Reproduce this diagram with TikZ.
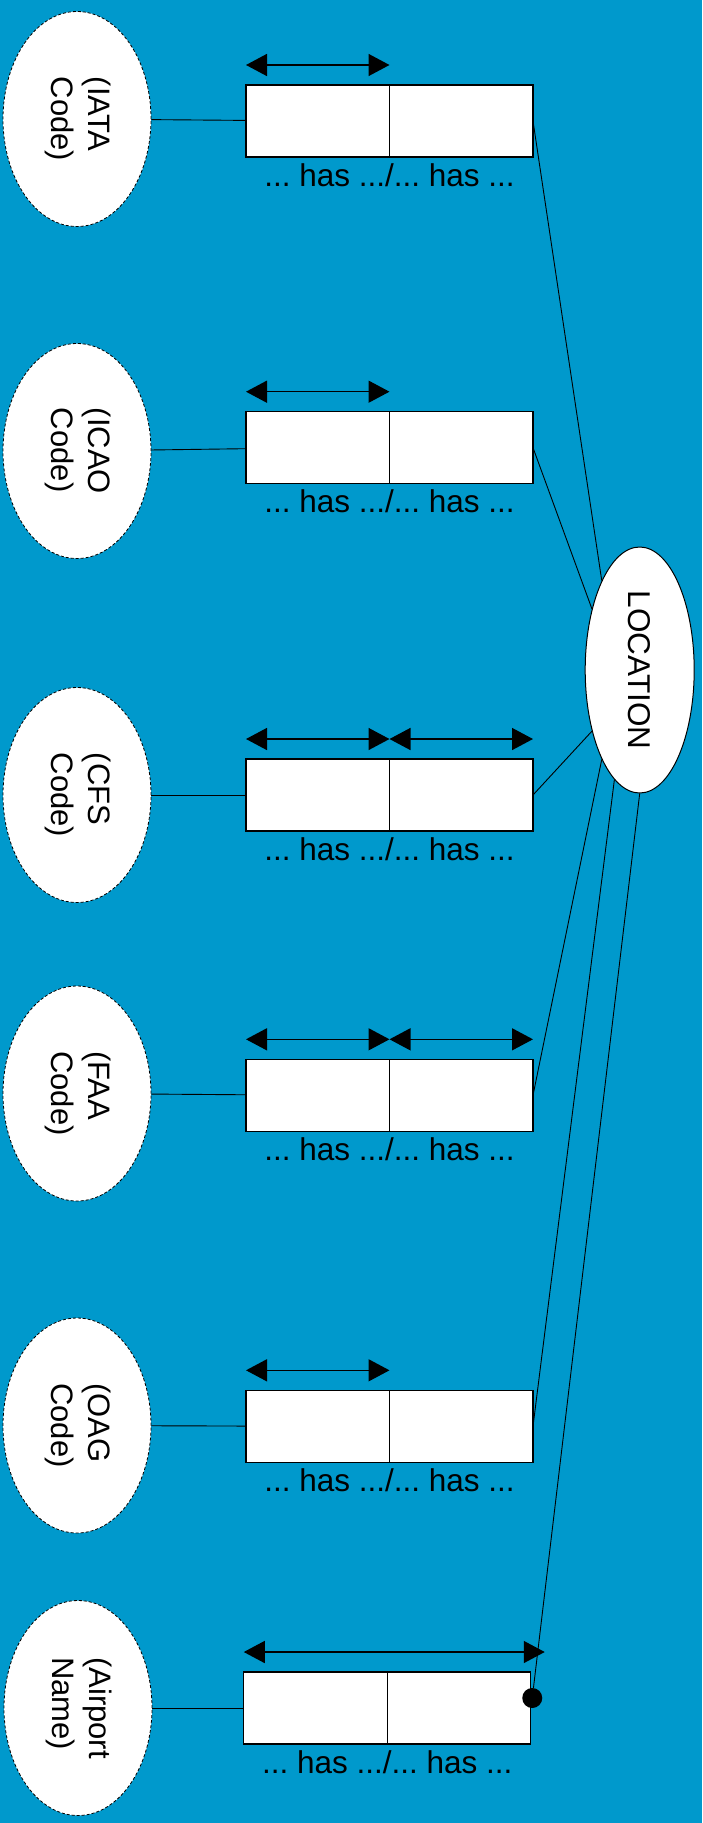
\documentclass[tikz,border=0pt]{standalone}
\usepackage{fontspec}
\setmainfont{Liberation Sans}
\usepackage{graphicx}
\usetikzlibrary{arrows.meta,positioning,shapes.geometric}
\definecolor{cerulean}{RGB}{0, 153, 204}
\frenchspacing

\tikzset{
    valuetype/.style={ellipse, draw=black, fill=white, line width=0.8pt, dash pattern=on 3pt off 2pt,
                      minimum width=148pt, minimum height=215pt, inner sep=0pt,
                      font=\fontsize{31}{37}\selectfont},
    entity/.style={ellipse, draw=black, fill=white, line width=1pt,
                   minimum width=109pt, minimum height=246pt, inner sep=0pt},
    role/.style={rectangle, draw=black, fill=white, line width=1.2pt,
                 minimum width=143.5pt, minimum height=72pt, inner sep=0pt, outer sep=0pt},
    reading/.style={anchor=base, inner sep=0pt},
    uniq/.style={{Triangle[length=21pt,width=22pt]}-{Triangle[length=21pt,width=22pt]}, line width=1.5pt},
    link/.style={line width=0.9pt},
}
\newcommand{\vtext}[1]{\rotatebox{-90}{\begin{tabular}{@{}l@{}}#1\end{tabular}}}

\begin{document}
\begin{tikzpicture}[x=1pt, y=-1pt, font=\fontsize{31.5}{35}\selectfont]
            \fill[cerulean] (0, 0) rectangle (702, 1823);

            \node[entity]    (loc)     at (639.7,  670.0) {\rotatebox{-90}{LOCATION}};

            \node[valuetype] (iata)    at ( 77.0,  119.0) {\vtext{(IATA\\Code)}};
            \node[valuetype] (icao)    at ( 77.0,  451.0) {\vtext{(ICAO\\Code)}};
            \node[valuetype] (cfs)     at ( 77.0,  795.0) {\vtext{(CFS\\Code)}};
            \node[valuetype] (faa)     at ( 77.0, 1093.5) {\vtext{(FAA\\Code)}};
            \node[valuetype] (oag)     at ( 77.0, 1425.5) {\vtext{(OAG\\Code)}};
            \node[valuetype] (airport) at ( 78.0, 1708.0) {\vtext{(Airport\\Name)}};

            \node[role] (iataA)    at (317.75,  121.0) {};
            \node[role] (icaoA)    at (317.75,  447.7) {};
            \node[role] (cfsA)     at (317.75,  795.0) {};
            \node[role] (faaA)     at (317.75, 1095.3) {};
            \node[role] (oagA)     at (317.75, 1426.3) {};
            \node[role] (airportA) at (315.50, 1708.0) {};
            \node[role, right=0pt of iataA]    (iataB)    {};
            \node[role, right=0pt of icaoA]    (icaoB)    {};
            \node[role, right=0pt of cfsA]     (cfsB)     {};
            \node[role, right=0pt of faaA]     (faaB)     {};
            \node[role, right=0pt of oagA]     (oagB)     {};
            \node[role, right=0pt of airportA] (airportB) {};

            \node[reading] (iataL)    at ([yshift=-29pt]iataA.south east)    {... has .../... has ...};
            \node[reading] (icaoL)    at ([yshift=-29pt]icaoA.south east)    {... has .../... has ...};
            \node[reading] (cfsL)     at ([yshift=-29pt]cfsA.south east)     {... has .../... has ...};
            \node[reading] (faaL)     at ([yshift=-29pt]faaA.south east)     {... has .../... has ...};
            \node[reading] (oagL)     at ([yshift=-29pt]oagA.south east)     {... has .../... has ...};
            \node[reading] (airportL) at ([yshift=-29pt]airportA.south east) {... has .../... has ...};

            \draw[uniq] ([yshift=20pt]iataA.north west)    -- ([yshift=20pt]iataA.north east);
            \draw[uniq] ([yshift=20pt]icaoA.north west)    -- ([yshift=20pt]icaoA.north east);
            \draw[uniq] ([yshift=20pt]cfsA.north west)     -- ([yshift=20pt]cfsA.north east);
            \draw[uniq] ([yshift=20pt]cfsB.north west)     -- ([yshift=20pt]cfsB.north east);
            \draw[uniq] ([yshift=20pt]faaA.north west)     -- ([yshift=20pt]faaA.north east);
            \draw[uniq] ([yshift=20pt]faaB.north west)     -- ([yshift=20pt]faaB.north east);
            \draw[uniq] ([yshift=20pt]oagA.north west)     -- ([yshift=20pt]oagA.north east);
            \draw[uniq] ([yshift=20pt]airportA.north west) -- ([xshift=14pt, yshift=20pt]airportB.north east);

            \draw[link] (iata)    -- (iataA);
            \draw[link] (icao)    -- (icaoA);
            \draw[link] (cfs)     -- (cfsA);
            \draw[link] (faa)     -- (faaA);
            \draw[link] (oag)     -- (oagA);
            \draw[link] (airport) -- (airportA);

            \node[circle, fill=black, minimum size=20pt, inner sep=0pt] (airportDot) at ([xshift=1.5pt, yshift=10pt]airportB.east) {};

            \draw[link] (iataB.east) -- (loc.113.4);
            \draw[link] (icaoB.east) -- (loc.128.2);
            \draw[link] (cfsB.east)  -- (loc.232.7);
            \draw[link] (faaB.east)  -- (loc.247.1);
            \draw[link] (oagB.east)  -- (loc.257.7);
            \draw[link] (airportDot) -- (loc.south);
        \end{tikzpicture}
\end{document}
